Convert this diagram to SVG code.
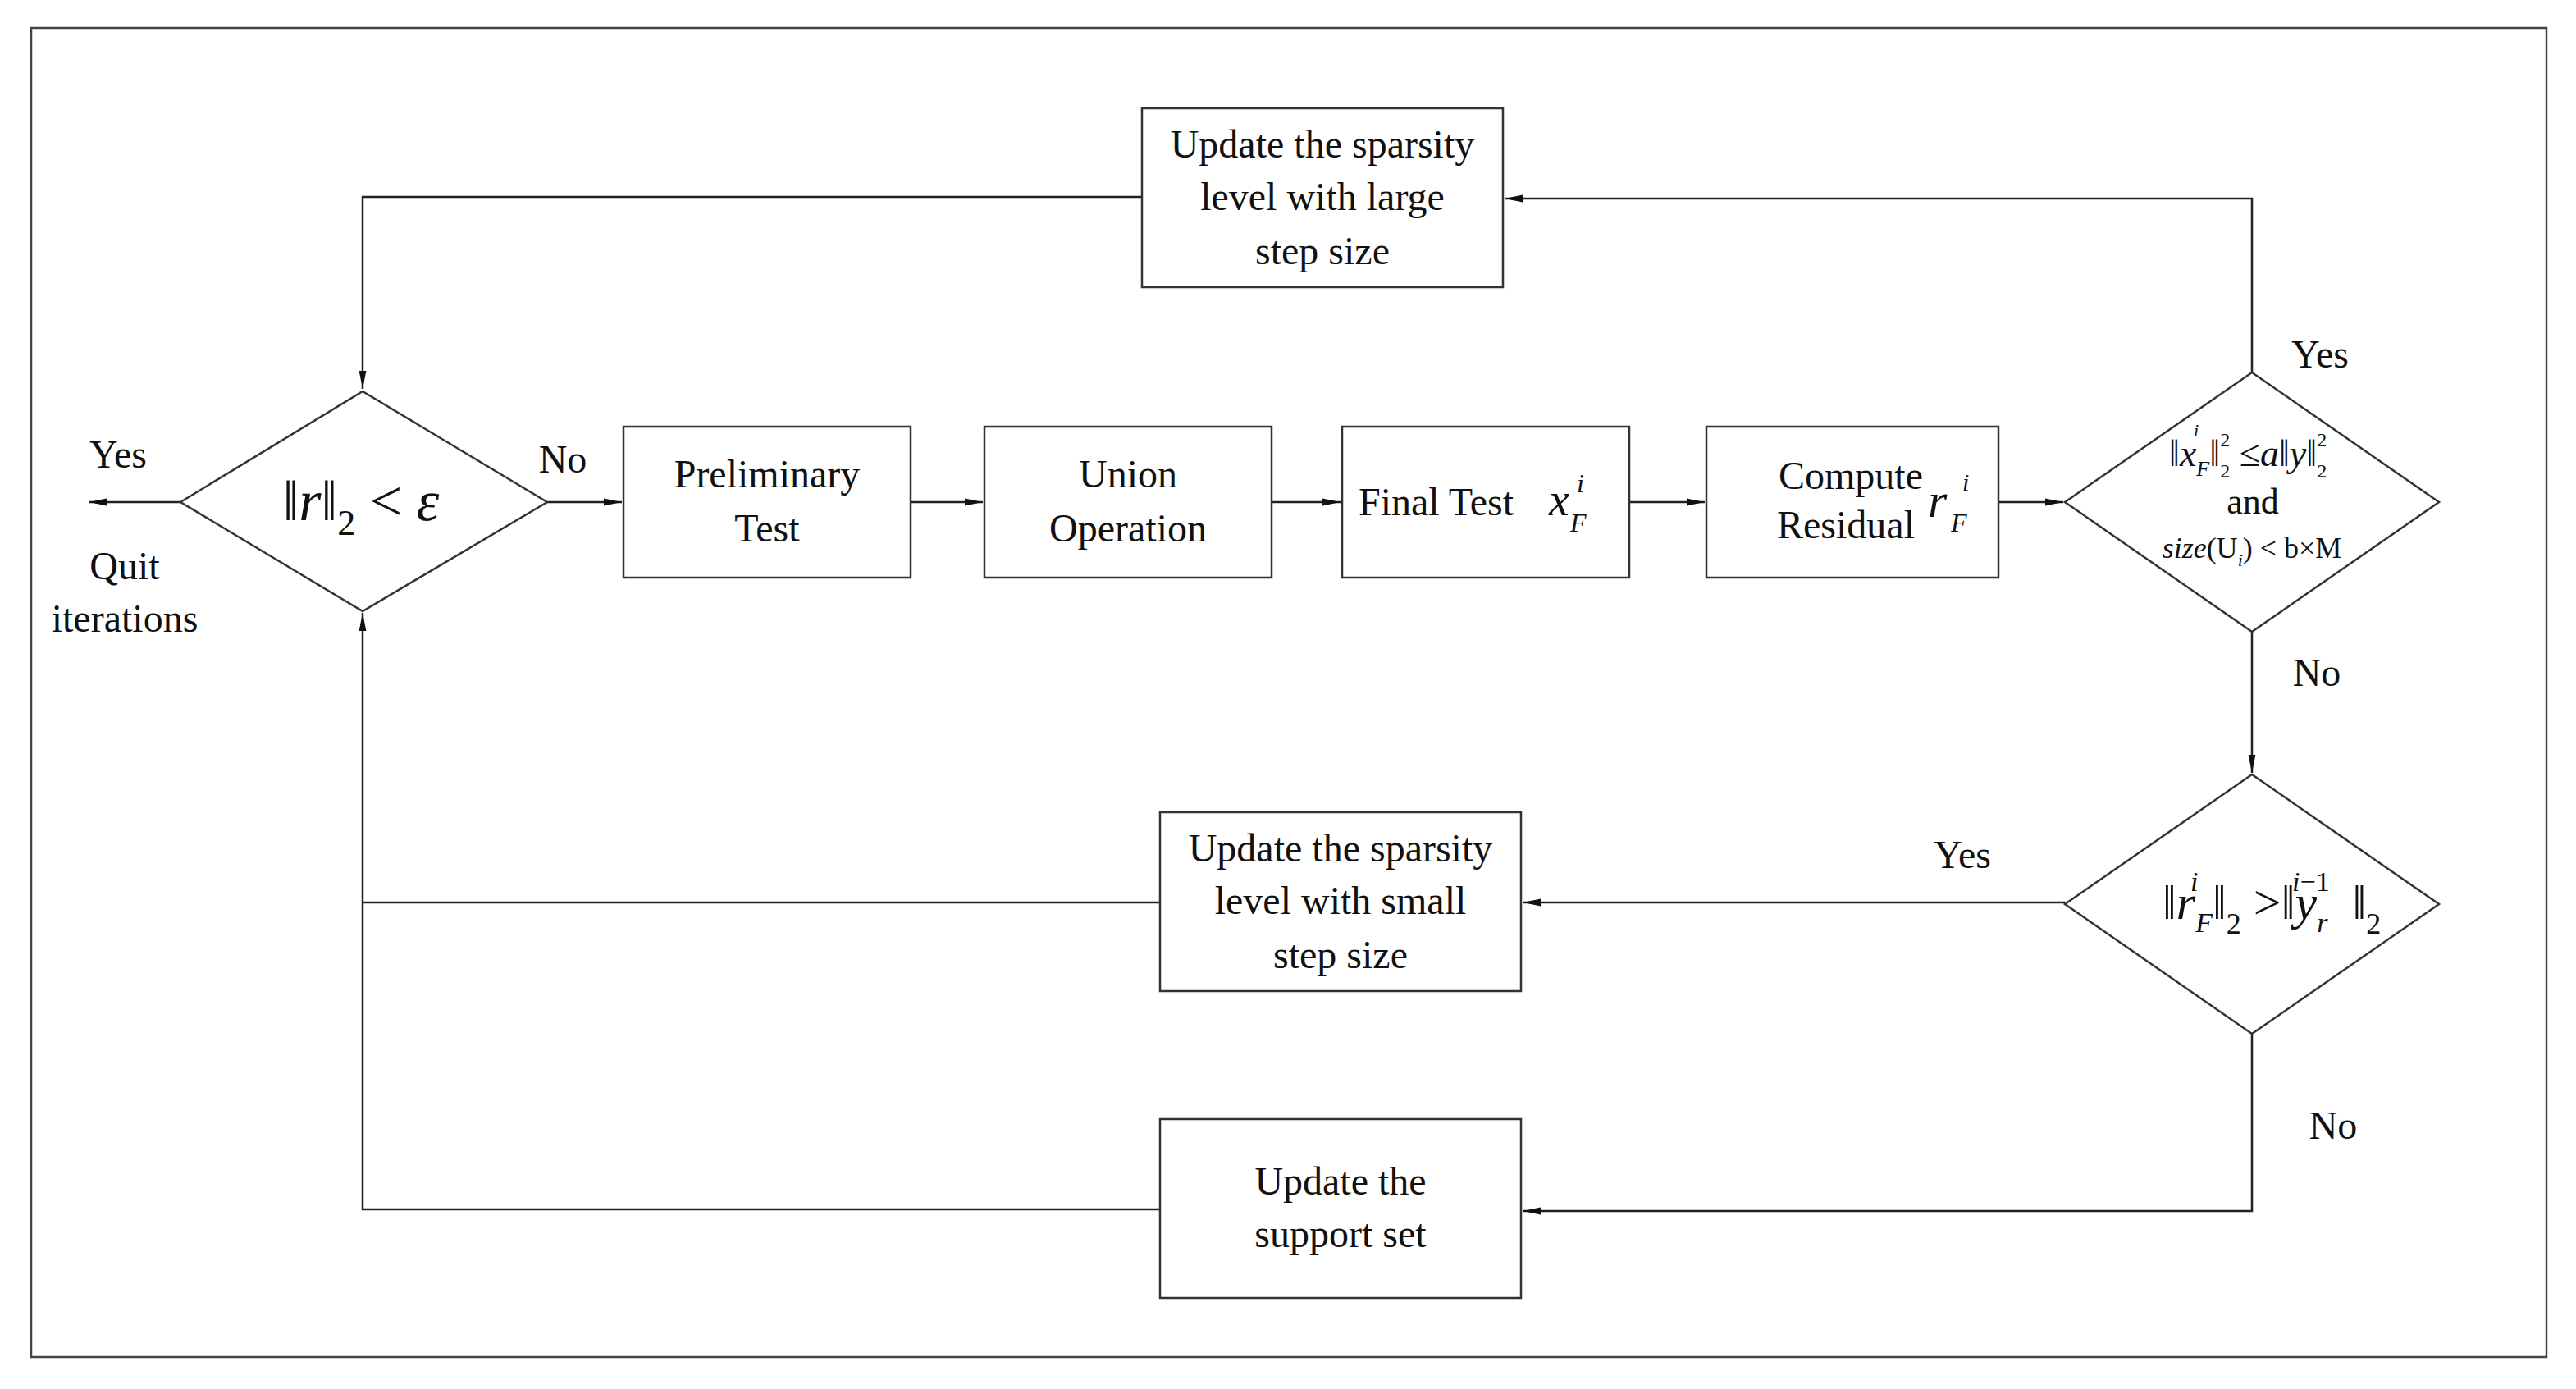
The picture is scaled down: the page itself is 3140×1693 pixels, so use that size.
<svg xmlns="http://www.w3.org/2000/svg" width="3140" height="1693" viewBox="0 0 3140 1693">
<style>
svg{font-size:48px;text-anchor:middle}
.s{fill:#fff;stroke:#333;stroke-width:2.5}
.c{fill:none;stroke:#222;stroke-width:2.5}
text{font-family:"Liberation Serif","Times New Roman",serif;fill:#111}
.i{font-style:italic}
</style>
<defs><marker id="b" viewBox="0 0 20 10" refX="20" refY="5" markerWidth="22" markerHeight="11" markerUnits="userSpaceOnUse" orient="auto"><path d="M0,1 L20,5 L0,9 z" fill="#111"/></marker></defs>
<rect x="38" y="34" width="3066" height="1620" fill="#fff" stroke="#444" stroke-width="2.5"/>
<g id="connectors">
<path class="c" d="M2745,454 V242 H1834" marker-end="url(#b)"/>
<path class="c" d="M1392,240 H442 V474" marker-end="url(#b)"/>
<path class="c" d="M220,612 H108" marker-end="url(#b)"/>
<path class="c" d="M667,612 H758" marker-end="url(#b)"/>
<path class="c" d="M1110,612 H1198" marker-end="url(#b)"/>
<path class="c" d="M1550,612 H1634" marker-end="url(#b)"/>
<path class="c" d="M1986,612 H2078" marker-end="url(#b)"/>
<path class="c" d="M2436,612 H2515" marker-end="url(#b)"/>
<path class="c" d="M2745,770 V942" marker-end="url(#b)"/>
<path class="c" d="M2517,1100 H1856" marker-end="url(#b)"/>
<path class="c" d="M1414,1100 H442"/>
<path class="c" d="M2745,1260 V1476 H1856" marker-end="url(#b)"/>
<path class="c" d="M1414,1474 H442 V747" marker-end="url(#b)"/>
<text x="144" y="570">Yes</text>
<text x="152" y="706">Quit</text>
<text x="152" y="770">iterations</text>
<text x="686" y="576">No</text>
<text x="2828" y="448">Yes</text>
<text x="2824" y="836">No</text>
<text x="2392" y="1058">Yes</text>
<text x="2844" y="1388">No</text>
</g>
<g id="top"><rect class="s" x="1392" y="132" width="440" height="218"/>
<text x="1612" y="192">Update the sparsity</text><text x="1612" y="256">level with large</text><text x="1612" y="322">step size</text></g>
<g id="d0"><polygon class="s" points="442,477 667,612 442,745 220,612"/>
<text x="440" y="634" font-size="70">‖<tspan class="i">r</tspan>‖<tspan font-size="44" dy="18">2</tspan><tspan dy="-18"> &lt; </tspan><tspan class="i">ε</tspan></text></g>
<g id="prelim"><rect class="s" x="760" y="520" width="350" height="184"/>
<text x="935" y="594">Preliminary</text><text x="935" y="660">Test</text></g>
<g id="union"><rect class="s" x="1200" y="520" width="350" height="184"/>
<text x="1375" y="594">Union</text><text x="1375" y="660">Operation</text></g>
<g id="final"><rect class="s" x="1636" y="520" width="350" height="184"/>
<text x="1656" y="628" text-anchor="start">Final Test</text>
<text x="1888" y="628" font-size="56" class="i" text-anchor="start">x</text>
<text x="1922" y="600" font-size="32" class="i" text-anchor="start">i</text>
<text x="1914" y="648" font-size="32" class="i" text-anchor="start">F</text></g>
<g id="resid"><rect class="s" x="2080" y="520" width="356" height="184"/>
<text x="2256" y="596">Compute</text><text x="2250" y="656">Residual</text>
<text x="2350" y="630" font-size="60" class="i" text-anchor="start">r</text>
<text x="2392" y="598" font-size="30" class="i" text-anchor="start">i</text>
<text x="2378" y="648" font-size="32" class="i" text-anchor="start">F</text></g>
<g id="d1"><polygon class="s" points="2745,454 2973,612 2745,770 2517,612"/>
<text x="2644" y="568" font-size="46" text-anchor="start">‖<tspan class="i">x</tspan><tspan font-size="26" class="i" dy="12">F</tspan><tspan dy="-12">‖</tspan><tspan font-size="24" dy="-24">2</tspan><tspan font-size="24" dx="-12" dy="38">2</tspan><tspan dy="-14"> ≤</tspan><tspan class="i">a</tspan>‖<tspan class="i">y</tspan>‖<tspan font-size="24" dy="-24">2</tspan><tspan font-size="24" dx="-12" dy="38">2</tspan></text>
<text x="2674" y="532" font-size="22" class="i" text-anchor="start">i</text>
<text x="2746" y="626" font-size="44">and</text>
<text x="2745" y="680" font-size="36"><tspan class="i">size</tspan>(U<tspan font-size="22" class="i" dy="10">i</tspan><tspan dy="-10">) &lt; b×M</tspan></text></g>
<g id="small"><rect class="s" x="1414" y="990" width="440" height="218"/>
<text x="1634" y="1050">Update the sparsity</text><text x="1634" y="1114">level with small</text><text x="1634" y="1180">step size</text></g>
<g id="d2"><polygon class="s" points="2745,944 2973,1102 2745,1260 2517,1102"/>
<text x="2636" y="1120" font-size="60" text-anchor="start">‖<tspan class="i">r</tspan><tspan font-size="34" class="i" dy="16">F</tspan><tspan dy="-16">‖</tspan><tspan font-size="36" dy="18">2</tspan><tspan dy="-18"> &gt;‖</tspan><tspan class="i">y</tspan><tspan font-size="34" class="i" dy="16">r</tspan><tspan dy="-16" dx="30">‖</tspan><tspan font-size="36" dy="18">2</tspan></text>
<text x="2670" y="1086" font-size="34" class="i" text-anchor="start">i</text>
<text x="2794" y="1086" font-size="34" text-anchor="start"><tspan class="i">i</tspan>−1</text></g>
<g id="support"><rect class="s" x="1414" y="1364" width="440" height="218"/>
<text x="1634" y="1456">Update the</text><text x="1634" y="1520">support set</text></g>
</svg>
